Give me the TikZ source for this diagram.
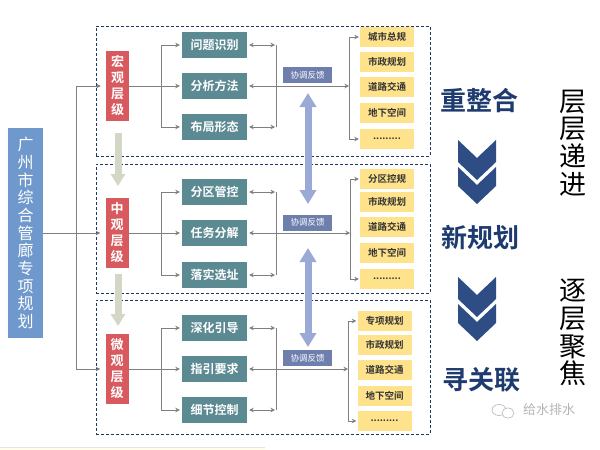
\documentclass[tikz,border=0pt]{standalone}
\usepackage{fontspec}
\setmainfont{Noto Sans CJK SC}[BoldFont={Noto Sans CJK SC Bold}]
\usetikzlibrary{arrows.meta}
\definecolor{tealc}{HTML}{5C8A93}
\definecolor{redc}{HTML}{D85A5F}
\definecolor{lblue}{HTML}{6F98CD}
\definecolor{fkc}{HTML}{6E7FAE}
\definecolor{yelc}{HTML}{FFE38C}
\definecolor{navyb}{HTML}{1F3864}
\definecolor{navyt}{HTML}{1E3B70}
\definecolor{chevc}{HTML}{2F4D85}
\definecolor{fatb}{HTML}{9AA9D6}
\definecolor{fatg}{HTML}{D3D7C6}
\definecolor{connc}{HTML}{7F7F7F}
\definecolor{wmc}{HTML}{B4B4B4}
\begin{document}
\begin{tikzpicture}[x=1pt,y=-1pt,
  dashbox/.style={draw=navyb,dashed,line width=0.9pt,dash pattern=on 3pt off 2pt},
  lbox/.style={fill=lblue,text=white,minimum width=35pt,minimum height=210pt,inner sep=0pt,align=center,font=\fontsize{16}{17.7}\selectfont},
  redbox/.style={fill=redc,text=white,minimum width=23pt,minimum height=70pt,inner sep=0pt,align=center,font=\bfseries\fontsize{13}{16}\selectfont},
  tealbox/.style={fill=tealc,text=white,minimum width=65pt,minimum height=26pt,inner sep=0pt,font=\bfseries\fontsize{12}{14}\selectfont},
  ybox/.style={fill=yelc,text=black!80,minimum width=54pt,minimum height=20pt,inner sep=0pt,font=\bfseries\fontsize{9.5}{11}\selectfont},
  fkbox/.style={fill=fkc,text=white,minimum width=49pt,minimum height=16pt,inner sep=0pt,font=\fontsize{8.5}{10}\selectfont},
  conn/.style={draw=connc,line width=0.9pt,-{Stealth[length=4.5pt,width=4.5pt]},shorten >=2pt},
  dconn/.style={draw=connc,line width=0.9pt,{Stealth[length=4.5pt,width=4.5pt]}-{Stealth[length=4.5pt,width=4.5pt]},shorten >=1pt,shorten <=2pt},
  plain/.style={draw=connc,line width=0.9pt},
  fatblue/.style={draw=fatb,line width=7pt,{Triangle[length=14pt,width=16pt]}-{Triangle[length=14pt,width=16pt]}},
  fatgray/.style={draw=fatg,line width=7pt,-{Triangle[length=12pt,width=14pt]}},
  bigt/.style={text=navyt,font=\bfseries\fontsize{26}{30}\selectfont,inner sep=0pt},
  vert/.style={text=black,font=\fontsize{27}{27.7}\selectfont,align=center,inner sep=0pt},
  chev/.style={fill=chevc}
]
\useasboundingbox (0,0) rectangle (600,450);
\fill[white] (0,0) rectangle (600,450);
\fill[yellow!8] (0,447) rectangle (265,450);
\draw[black!10] (0,447) -- (265,447);

% dashed level boxes
\node[dashbox,minimum width=334pt,minimum height=130pt,inner sep=0pt] (DB1) at (263,91) {};
\node[dashbox,minimum width=334pt,minimum height=129pt,inner sep=0pt] (DB2) at (263,228.5) {};
\node[dashbox,minimum width=334pt,minimum height=134pt,inner sep=0pt] (DB3) at (263,367) {};

% left box
\node[lbox] (L) at (25.5,233) {广\\州\\市\\综\\合\\管\\廊\\专\\项\\规\\划};

% red level boxes
\node[redbox] (R1) at (117.5,86) {宏\\观\\层\\级};
\node[redbox] (R2) at (117,233) {中\\观\\层\\级};
\node[redbox] (R3) at (117,369) {微\\观\\层\\级};

\coordinate (J) at (76,233);
\draw[conn,shorten >=5pt] (L.east) -- (R2.west);
\draw[conn,shorten >=5pt] (J) |- (R1.west);
\draw[conn,shorten >=5pt] (J) |- (R3.west);

% gray fat arrows
\coordinate (g1a) at (118,133); \coordinate (g1b) at (118,186);
\coordinate (g2a) at (118,274); \coordinate (g2b) at (118,326);
\draw[fatgray] (g1a) -- (g1b);
\draw[fatgray] (g2a) -- (g2b);

% teal boxes
\node[tealbox] (T11) at (214.5,45) {问题识别};
\node[tealbox] (T12) at (214.5,86) {分析方法};
\node[tealbox] (T13) at (214.5,127) {布局形态};
\node[tealbox] (T21) at (214.5,192) {分区管控};
\node[tealbox] (T22) at (214.5,233) {任务分解};
\node[tealbox] (T23) at (214.5,275) {落实选址};
\node[tealbox] (T31) at (214.5,328) {深化引导};
\node[tealbox] (T32) at (214.5,369) {指引要求};
\node[tealbox] (T33) at (214.5,410) {细节控制};

% red -> teal branches
\foreach \i/\y in {1/86,2/233,3/369}{
  \coordinate (B\i) at (161,\y);
  \draw[plain] (R\i.east) -- (B\i);
  \draw[conn] (B\i) |- (T\i1.west);
  \draw[conn] (B\i) -- (T\i2.west);
  \draw[conn] (B\i) |- (T\i3.west);
}

% right side of teal
\foreach \i/\ya/\yb/\yc/\xd in {1/45/86/127/349,2/192/233/275/350,3/328/369/410/348}{
  \coordinate (Ca\i) at (276,\ya);
  \coordinate (Cc\i) at (276,\yc);
  \coordinate (D\i) at (\xd,\yb);
  \draw[dconn] (T\i1.east) -- (Ca\i);
  \draw[dconn] (T\i3.east) -- (Cc\i);
  \draw[plain] (Ca\i) -- (Cc\i);
  \draw[dconn,shorten >=0pt] (T\i2.east) -- (D\i);
}

% feedback boxes
\node[fkbox] (F1) at (307.5,75) {协调反馈};
\node[fkbox] (F2) at (307.5,222.5) {协调反馈};
\node[fkbox] (F3) at (307.5,358) {协调反馈};

% blue fat double arrows
\coordinate (b1a) at (308,93); \coordinate (b1b) at (308,204);
\coordinate (b2a) at (308,248); \coordinate (b2b) at (308,347);
\draw[fatblue] (b1a) -- (b1b);
\draw[fatblue] (b2a) -- (b2b);

% yellow boxes
\node[ybox] (Y11) at (387,37) {城市总规};
\node[ybox] (Y12) at (387,62) {市政规划};
\node[ybox] (Y13) at (387,87) {道路交通};
\node[ybox] (Y14) at (387,113) {地下空间};
\node[ybox] (Y15) at (387,139) {.........};
\node[ybox] (Y21) at (387,179) {分区控规};
\node[ybox] (Y22) at (387,202) {市政规划};
\node[ybox] (Y23) at (387,227) {道路交通};
\node[ybox] (Y24) at (387,253) {地下空间};
\node[ybox] (Y25) at (387,279) {.........};
\node[ybox] (Y31) at (384.5,321) {专项规划};
\node[ybox] (Y32) at (384.5,345) {市政规划};
\node[ybox] (Y33) at (384.5,370) {道路交通};
\node[ybox] (Y34) at (384.5,396) {地下空间};
\node[ybox] (Y35) at (384.5,421) {.........};

\foreach \i in {1,2,3}{
  \draw[conn,shorten >=1pt] (D\i) |- (Y\i1.west);
  \draw[conn,shorten >=1pt] (D\i) |- (Y\i5.west);
}

% right column
\node[bigt] (S1) at (479,101) {重整合};
\node[bigt] (S2) at (480,238) {新规划};
\node[bigt] (S3) at (481,380) {寻关联};

\foreach \o in {0,137}{
  \begin{scope}[yshift=-\o pt]
  \fill[chev] (458,140) -- (477,158) -- (496,140) -- (496,162) -- (477,180) -- (458,162) -- cycle;
  \fill[chev] (458,167) -- (477,185) -- (496,167) -- (496,186) -- (477,204) -- (458,186) -- cycle;
  \end{scope}
}

\node[vert] (V1) at (573,143) {层\\层\\递\\进};
\node[vert] (V2) at (573,332.5) {逐\\层\\聚\\焦};

% watermark
\draw[wmc,line width=0.6pt] (499,410) ellipse (7pt and 5.5pt);
\draw[wmc,line width=0.6pt,fill=white] (508,413) ellipse (6pt and 5pt);
\node[text=wmc,font=\fontsize{13}{15}\selectfont,inner sep=0pt] (W) at (549,410) {给水排水};
\end{tikzpicture}
\end{document}
